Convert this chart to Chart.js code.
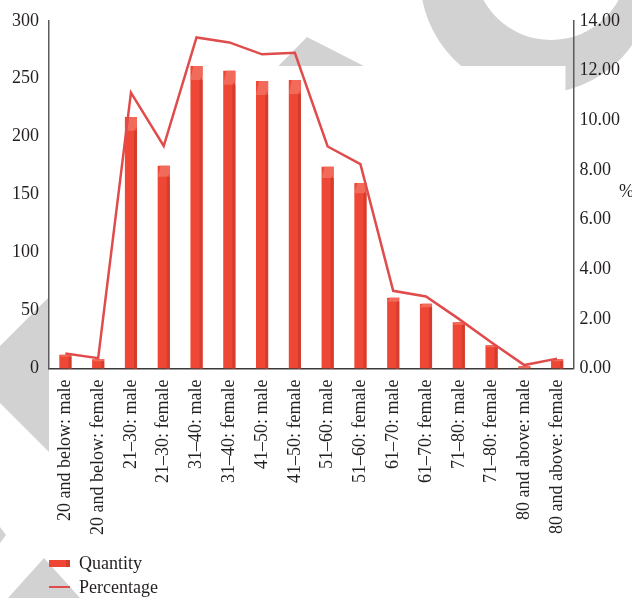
<!DOCTYPE html>
<html>
<head>
<meta charset="utf-8">
<script src="https://cdn.jsdelivr.net/npm/chart.js@4.4.1/dist/chart.umd.min.js"></script>
<style>
  html, body { margin: 0; padding: 0; background: #fff; }
  #wrap { position: relative; width: 632px; height: 598px; font-family: "Liberation Serif", "DejaVu Serif", serif; color: #231f20; }
  #chart { position: absolute; left: 0; top: 0; }
  #pct { position: absolute; left: 619px; top: 181px; font-size: 18px; }
  #legend { position: absolute; left: 49px; top: 551px; font-size: 18px; line-height: 24px; }
  #legend .row { display: flex; align-items: center; }
  #legend .sw { width: 21px; margin-right: 9px; }
</style>
</head>
<body>
<div id="wrap">
  <canvas id="chart" width="632" height="598"></canvas>
  <div id="pct">%</div>
  <div id="legend"></div>
</div>
<script>
// age group / gender categories
var categories = [
    "20 and below: male", "20 and below: female",
    "21–30: male", "21–30: female",
    "31–40: male", "31–40: female",
    "41–50: male", "41–50: female",
    "51–60: male", "51–60: female",
    "61–70: male", "61–70: female",
    "71–80: male", "71–80: female",
    "80 and above: male", "80 and above: female"
];
// (left axis)
var quantity = [12, 8, 217, 175, 261, 257, 248, 249, 174, 160, 61, 56, 40, 20, 2, 8];
// (right axis, %)
var percentage = [0.61, 0.42, 11.11, 8.96, 13.33, 13.13, 12.65, 12.71, 8.94, 8.23, 3.13, 2.90, 2.00, 1.05, 0.14, 0.40];
var leftTicks = [0, 50, 100, 150, 200, 250, 300];
var rightTicks = [0, 2, 4, 6, 8, 10, 12, 14];

var barRed = "#ee4735";
var lineRed = "#e04b4b";
var textCol = "#231f20";

// grey page decoration behind the plot, plot area itself is white
var backdrop = {
    id: "backdrop",
    beforeDraw: function(chart) {
        var ctx = chart.ctx;
        ctx.save();
        ctx.fillStyle = "#d2d2d2";
        ctx.beginPath();
        ctx.arc(537, -23, 117, 0, Math.PI * 2);
        ctx.arc(551, -37, 77, 0, Math.PI * 2, true);
        ctx.fill();
        ctx.beginPath();
        ctx.moveTo(307, 37); ctx.lineTo(230, 115); ctx.lineTo(460, 115);
        ctx.fill();
        ctx.beginPath();
        ctx.moveTo(60, 286); ctx.lineTo(0, 346); ctx.lineTo(0, 403); ctx.lineTo(60, 463);
        ctx.fill();
        ctx.beginPath();
        ctx.moveTo(0, 527); ctx.lineTo(6, 535); ctx.lineTo(0, 543);
        ctx.fill();
        ctx.beginPath();
        ctx.moveTo(44, 558); ctx.lineTo(8, 598); ctx.lineTo(80, 598);
        ctx.fill();
        var a = chart.chartArea;
        ctx.fillStyle = "#fff";
        ctx.fillRect(a.left, 66, a.right - a.left - 8, 484);
        ctx.restore();
    }
};

// fake 3d look on the columns: light top, darker right side
var columns3d = {
    id: "columns3d",
    afterDatasetDraw: function(chart, args) {
        if (args.index !== 0) return;
        var ctx = chart.ctx;
        ctx.save();
        args.meta.data.forEach(function(bar) {
            var p = bar.getProps(["x", "y", "base", "width"], true);
            var left = p.x - p.width / 2, right = p.x + p.width / 2;
            var h = p.base - p.y;
            var cap = Math.max(2, Math.min(14, h * 0.055));
            ctx.fillStyle = "#d63c2c";
            ctx.fillRect(right - 3, p.y + cap, 3, h - cap);
            ctx.fillStyle = "#f26a5a";
            ctx.beginPath();
            ctx.moveTo(left, p.y + cap);
            ctx.lineTo(left + 3, p.y);
            ctx.lineTo(right, p.y);
            ctx.lineTo(right, p.y + cap * 0.7);
            ctx.lineTo(right - 3, p.y + cap);
            ctx.closePath();
            ctx.fill();
        });
        ctx.restore();
    }
};

var tickFont = { family: "'Liberation Serif', 'DejaVu Serif', serif", size: 18 };

var chart = new Chart(document.getElementById("chart"), {
    data: {
        labels: categories,
        datasets: [
            {
                type: "bar",
                label: "Quantity",
                data: quantity,
                yAxisID: "y",
                backgroundColor: barRed,
                barPercentage: 0.37,
                categoryPercentage: 1,
                order: 2
            },
            {
                type: "line",
                label: "Percentage",
                data: percentage,
                yAxisID: "y1",
                borderColor: lineRed,
                borderWidth: 2.5,
                pointRadius: 0,
                tension: 0,
                order: 1
            }
        ]
    },
    options: {
        responsive: false,
        animation: false,
        devicePixelRatio: 1,
        layout: { padding: { left: 2, right: 6, top: 10, bottom: 52 } },
        plugins: { legend: { display: false }, tooltip: { enabled: false } },
        scales: {
            x: {
                grid: { display: false, drawTicks: false },
                border: { display: true, color: "#3a3a3a", width: 1.5 },
                ticks: { autoSkip: false, minRotation: 90, maxRotation: 90, padding: 11, color: textCol, font: tickFont }
            },
            y: {
                position: "left",
                min: 0, max: 300,
                afterBuildTicks: function(s) { s.ticks = leftTicks.map(function(v) { return { value: v }; }); },
                grid: { display: false, drawTicks: false },
                border: { display: true, color: "#5a5a5a", width: 1.5 },
                ticks: { padding: 10, color: textCol, font: tickFont }
            },
            y1: {
                position: "right",
                min: 0, max: 14,
                afterBuildTicks: function(s) { s.ticks = rightTicks.map(function(v) { return { value: v }; }); },
                grid: { display: false, drawTicks: false },
                border: { display: true, color: "#5a5a5a", width: 1.5 },
                ticks: { padding: 6, color: textCol, font: tickFont, callback: function(v) { return Number(v).toFixed(2); } }
            }
        }
    },
    plugins: [backdrop, columns3d]
});

// legend stacked like the original, built from the datasets
var legend = document.getElementById("legend");
chart.data.datasets.forEach(function(ds) {
    var row = document.createElement("div");
    row.className = "row";
    var sw = document.createElement("span");
    sw.className = "sw";
    if (ds.type === "bar") {
        sw.style.height = "7px";
        sw.style.background = "linear-gradient(to right, " + ds.backgroundColor + " 80%, #d63c2c 80%)";
    } else {
        sw.style.height = "1.5px";
        sw.style.background = ds.borderColor;
    }
    var txt = document.createElement("span");
    txt.textContent = ds.label;
    row.appendChild(sw);
    row.appendChild(txt);
    legend.appendChild(row);
});
</script>
</body>
</html>
